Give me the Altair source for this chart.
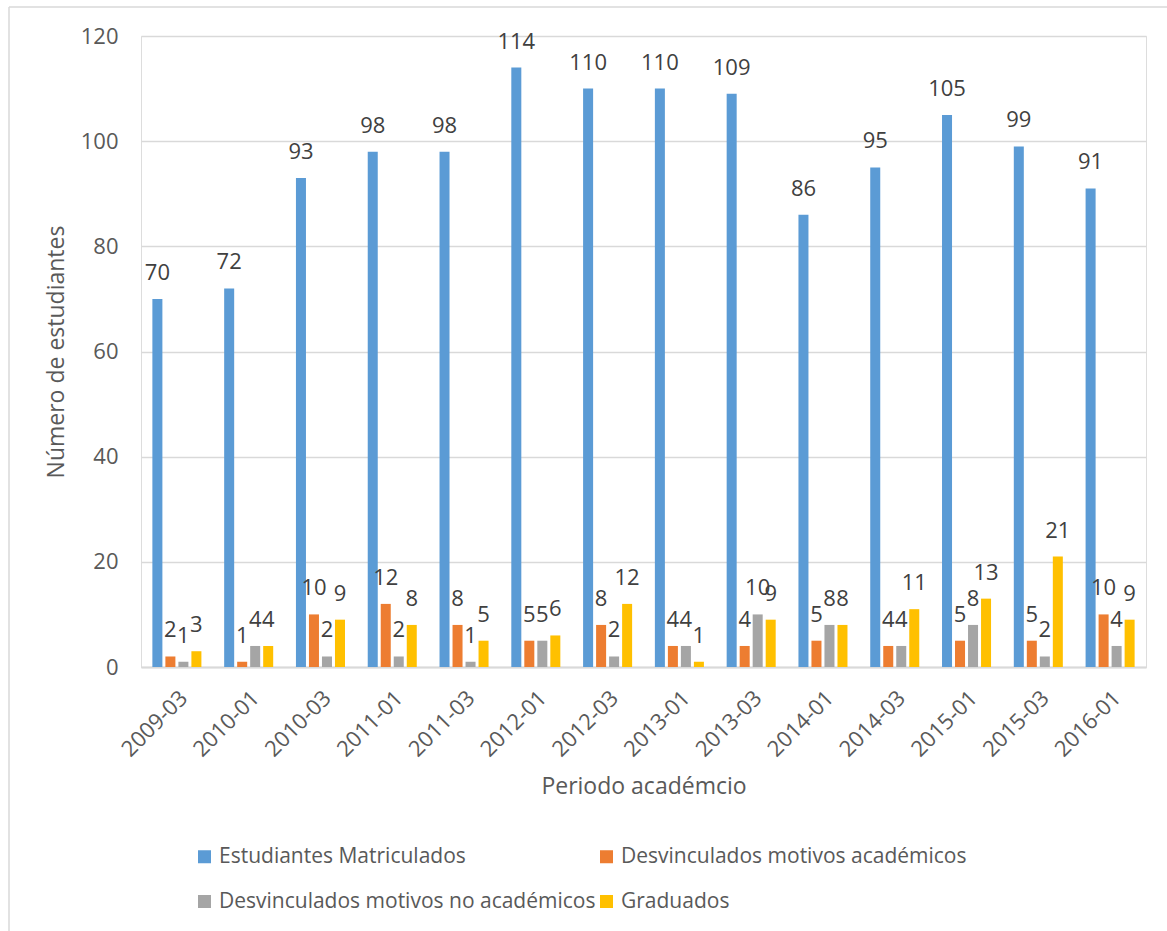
import altair as alt
import pandas as pd

periodos = ["2009-03", "2010-01", "2010-03", "2011-01", "2011-03", "2012-01", "2012-03",
            "2013-01", "2013-03", "2014-01", "2014-03", "2015-01", "2015-03", "2016-01"]
matriculados = [70, 72, 93, 98, 98, 114, 110, 110, 109, 86, 95, 105, 99, 91]
desv_academicos = [2, 1, 10, 12, 8, 5, 8, 4, 4, 5, 4, 5, 5, 10]
desv_no_academicos = [1, 4, 2, 2, 1, 5, 2, 4, 10, 8, 4, 8, 2, 4]
graduados = [3, 4, 9, 8, 5, 6, 12, 1, 9, 8, 11, 13, 21, 9]

series_names = ["Estudiantes Matriculados", "Desvinculados motivos académicos",
                "Desvinculados motivos no académicos", "Graduados"]
series_colors = ["#5B9BD5", "#ED7D31", "#A5A5A5", "#FFC000"]
y_ticks = [0, 20, 40, 60, 80, 100, 120]

# legend is laid out column by column, so order entries to read row by row
legend_order = [series_names[0], series_names[2], series_names[1], series_names[3]]
legend_colors = [series_colors[0], series_colors[2], series_colors[1], series_colors[3]]

rows = []
for name, vals in zip(series_names, [matriculados, desv_academicos, desv_no_academicos, graduados]):
    for p, v in zip(periodos, vals):
        rows.append({"Periodo": p, "Serie": name, "Valor": v})
df = pd.DataFrame(rows)

FONT = "Open Sans"

x_enc = alt.X("Periodo:N", sort=periodos, title="Periodo académcio",
              scale=alt.Scale(paddingInner=0.317, paddingOuter=0.1585),
              axis=alt.Axis(labelAngle=-45, labelFontSize=22, labelColor="#595959",
                            labelFont=FONT, ticks=False, labelPadding=20,
                            domainColor="#D9D9D9", domainWidth=2,
                            titleFontSize=23, titleFont=FONT, titleColor="#595959",
                            titleFontWeight="normal", titlePadding=15))
xoff_enc = alt.XOffset("Serie:N", sort=series_names,
                       scale=alt.Scale(domain=series_names, paddingInner=0.23, paddingOuter=0))
y_enc = alt.Y("Valor:Q", title="Número de estudiantes",
              scale=alt.Scale(domain=[0, 120], nice=False),
              axis=alt.Axis(values=y_ticks, labelFontSize=22, labelColor="#595959",
                            labelFont=FONT, ticks=False, domain=False, labelPadding=23,
                            gridColor="#D9D9D9", gridWidth=1.5,
                            titleFontSize=23, titleFont=FONT, titleColor="#595959",
                            titleFontWeight="normal", titlePadding=12))
color_enc = alt.Color("Serie:N",
                      scale=alt.Scale(domain=legend_order, range=legend_colors),
                      legend=alt.Legend(title=None, orient="none", legendX=53, legendY=810,
                                        columns=2, columnPadding=0, rowPadding=23,
                                        symbolType="square", symbolSize=169,
                                        symbolStrokeWidth=0, labelOffset=4,
                                        labelFontSize=21, labelFont=FONT,
                                        labelColor="#595959", labelLimit=0))

base = alt.Chart(df)
bars = base.mark_bar().encode(x=x_enc, xOffset=xoff_enc, y=y_enc, color=color_enc)
labels = base.mark_text(baseline="alphabetic", dy=-19, fontSize=22, font=FONT,
                        color="#404040").encode(
    x=alt.X("Periodo:N", sort=periodos),
    xOffset=alt.XOffset("Serie:N", sort=series_names),
    y="Valor:Q", text="Valor:Q")

frame_df = pd.DataFrame({"k": [0]})
top_line = alt.Chart(frame_df).mark_rule(color="#D9D9D9", strokeWidth=1.5).encode(
    x=alt.value(-132), x2=alt.value(1040), y=alt.value(-29))
left_line = alt.Chart(frame_df).mark_rule(color="#D9D9D9", strokeWidth=1.5).encode(
    x=alt.value(-132), y=alt.value(-29), y2=alt.value(900))

chart = alt.layer(bars, labels, top_line, left_line).properties(
    width=1005, height=631,
    padding={"left": 141, "top": 36, "right": 21, "bottom": 264},
    autosize="none",
).configure_view(stroke=None).configure(background="white")

chart.save("out.html", embed_options={"renderer": "svg", "actions": False})
